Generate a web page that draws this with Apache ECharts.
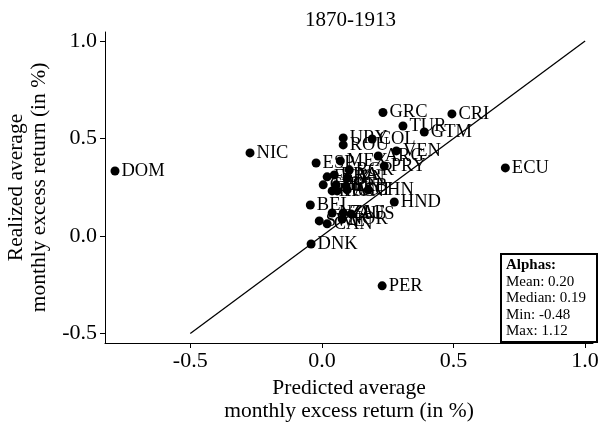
<!DOCTYPE html>
<html>
<head>
<meta charset="utf-8">
<script src="https://cdn.jsdelivr.net/npm/echarts@6/dist/echarts.min.js"></script>
<style>
  html, body { margin: 0; padding: 0; background: #fff; }
  #main { width: 600px; height: 428px; }
</style>
</head>
<body>
<div id="main"></div>
<script>
// country codes and their predicted / realized average monthly excess returns (in %)
const countries = ['ESP', 'MEX', 'BGR', 'ARG', 'PRY', 'VEN', 'URY', 'ROU', 'COL', 'GRC', 'TUR', 'GTM',
  'CRI', 'EGY', 'JPN', 'BRA', 'CHL', 'PRT', 'SRB', 'RUS', 'HUN', 'AUT', 'CHN', 'HND', 'BEL', 'NZL',
  'ZAF', 'AUS', 'SWE', 'NOR', 'CAN', 'DNK', 'PER', 'DOM', 'NIC', 'ECU'];
const predicted = [-0.022, 0.070, 0.104, 0.214, 0.237, 0.283, 0.081, 0.081, 0.191, 0.232, 0.308, 0.389,
  0.494, 0.020, 0.096, 0.047, 0.005, 0.054, 0.092, 0.039, 0.058, 0.096, 0.176, 0.275, -0.044, 0.039,
  0.081, 0.111, -0.010, 0.077, 0.020, -0.041, 0.229, -0.786, -0.273, 0.697];
const realized = [0.374, 0.385, 0.338, 0.410, 0.359, 0.436, 0.503, 0.467, 0.497, 0.633, 0.564, 0.533,
  0.626, 0.303, 0.297, 0.313, 0.262, 0.262, 0.256, 0.231, 0.231, 0.236, 0.236, 0.174, 0.159, 0.118,
  0.118, 0.113, 0.077, 0.087, 0.062, -0.041, -0.256, 0.333, 0.426, 0.349];

const xTicks = [-0.5, 0, 0.5, 1];
const yTicks = [-0.5, 0, 0.5, 1];
const diagonal = [[-0.5, -0.5], [1, 1]];

const statsTitle = 'Alphas:';
const statsLines = ['Mean: 0.20', 'Median: 0.19', 'Min: -0.48', 'Max: 1.12'];

const serif = "'Liberation Serif', 'DejaVu Serif', serif";

const points = countries.map((c, i) => ({ name: c, value: [predicted[i], realized[i]] }));

const chart = echarts.init(document.getElementById('main'));
chart.setOption({
  animation: false,
  backgroundColor: '#fff',
  textStyle: { fontFamily: serif, color: '#000' },
  title: {
    text: '1870-1913',
    left: 300,
    top: 5,
    textStyle: { fontFamily: serif, fontSize: 21, fontWeight: 'normal', color: '#000' }
  },
  grid: { left: 105, right: 7, top: 32, bottom: 85, outerBoundsMode: 'none', containLabel: false },
  xAxis: {
    type: 'value',
    min: -0.824,
    max: 1.03,
    name: 'Predicted average\nmonthly excess return (in %)',
    nameLocation: 'middle',
    nameGap: 32,
    nameTextStyle: { fontFamily: serif, fontSize: 21.5, color: '#000', lineHeight: 23 },
    splitLine: { show: false },
    axisLine: { show: true, onZero: false, lineStyle: { color: '#000', width: 1 } },
    axisTick: { show: true, length: 5, customValues: xTicks, lineStyle: { color: '#000' } },
    axisLabel: {
      customValues: xTicks,
      margin: 7,
      fontSize: 22,
      fontFamily: serif,
      color: '#000',
      formatter: v => v.toFixed(1)
    }
  },
  yAxis: {
    type: 'value',
    min: -0.549,
    max: 1.046,
    name: 'Realized average\nmonthly excess return (in %)',
    nameLocation: 'middle',
    nameGap: 46,
    nameRotate: 90,
    nameTextStyle: { fontFamily: serif, fontSize: 21.5, color: '#000', lineHeight: 23 },
    splitLine: { show: false },
    axisLine: { show: true, onZero: false, lineStyle: { color: '#000', width: 1 } },
    axisTick: { show: true, length: 5, customValues: yTicks, lineStyle: { color: '#000' } },
    axisLabel: {
      customValues: yTicks,
      margin: 8,
      fontSize: 22,
      fontFamily: serif,
      color: '#000',
      formatter: v => v.toFixed(1)
    }
  },
  series: [
    {
      type: 'line',
      data: diagonal,
      showSymbol: false,
      silent: true,
      lineStyle: { color: '#000', width: 1.3 },
      z: 1
    },
    {
      type: 'scatter',
      data: points,
      symbolSize: 9,
      itemStyle: { color: '#000', opacity: 1 },
      label: {
        show: true,
        position: 'right',
        distance: 2,
        offset: [0, -9],
        formatter: p => p.name,
        fontFamily: serif,
        fontSize: 18.5,
        color: '#000'
      },
      labelLayout: { hideOverlap: false },
      z: 3
    }
  ],
  graphic: [
    {
      type: 'group',
      left: 500,
      top: 253,
      children: [
        {
          type: 'rect',
          shape: { x: 0, y: 0, width: 96, height: 88 },
          style: { fill: '#fff', stroke: '#000', lineWidth: 2 }
        },
        {
          type: 'text',
          x: 5,
          y: 3,
          style: {
            text: '{b|' + statsTitle + '}\n' + statsLines.join('\n'),
            fontFamily: serif,
            fontSize: 15,
            lineHeight: 16.5,
            fill: '#000',
            rich: { b: { fontFamily: serif, fontSize: 15, fontWeight: 'bold', lineHeight: 16.5 } }
          }
        }
      ]
    }
  ]
});
</script>
</body>
</html>
